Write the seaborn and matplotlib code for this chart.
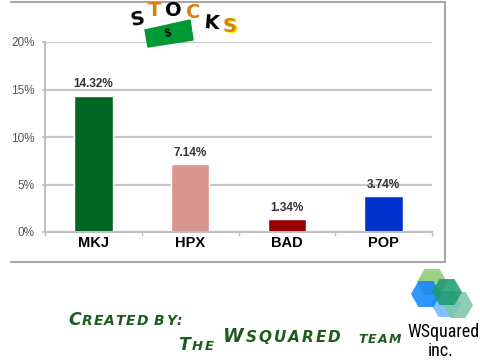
import numpy as np
import pandas as pd
import matplotlib
matplotlib.use("Agg")
import matplotlib.pyplot as plt
from matplotlib.patches import Polygon, RegularPolygon
from matplotlib.ticker import FuncFormatter
import seaborn as sns

tickers = ["MKJ", "HPX", "BAD", "POP"]
returns = [14.32, 7.14, 1.34, 3.74]
bar_colors = ["#006622", "#d99590", "#990000", "#0033cc"]
y_ticks = [0, 5, 10, 15, 20]

df = pd.DataFrame({"ticker": tickers, "ret": returns})

sns.set_theme(style="white")
plt.rcParams["font.family"] = ["Liberation Sans", "DejaVu Sans"]

fig = plt.figure(figsize=(4.8, 3.6), dpi=100)
ax = fig.add_axes([45 / 480, 1 - 232 / 360, 387 / 480, 190 / 360])

sns.barplot(data=df, x="ticker", y="ret", hue="ticker", palette=bar_colors,
            width=0.4, saturation=1, legend=False, ax=ax)

ax.set_xlim(-0.5, 3.5)
ax.set_ylim(0, 20)
ax.set_yticks(y_ticks)
ax.yaxis.set_major_formatter(FuncFormatter(lambda v, _: f"{v:.0f}%"))
ax.set_xlabel("")
ax.set_ylabel("")
ax.set_axisbelow(True)
ax.grid(axis="y", color="#c8c8c8", linewidth=1.6)

for side in ["top", "right"]:
    ax.spines[side].set_visible(False)
for side in ["left", "bottom"]:
    ax.spines[side].set_color("#c0c0c0")
    ax.spines[side].set_linewidth(1.5)

ax.tick_params(axis="y", left=True, length=2.5, color="#c0c0c0", pad=5,
               labelsize=8.5, labelcolor="#555555")
ax.tick_params(axis="x", length=0, pad=3, labelsize=10.5, labelcolor="black")
for lbl in ax.get_xticklabels():
    lbl.set_fontweight("bold")
ax.set_xticks(np.arange(-0.5, 4, 1), minor=True)
ax.tick_params(axis="x", which="minor", bottom=True, length=3, color="#c0c0c0")

# value labels
for cont, val in zip(ax.containers, returns):
    ax.bar_label(cont, labels=[f"{val:.2f}%"], padding=4, fontsize=8.5,
                 fontweight="bold", color="#333333")

# overlay in pixel coordinates for decorations
over = fig.add_axes([0, 0, 1, 1])
over.set_xlim(0, 480)
over.set_ylim(360, 0)
over.axis("off")
over.patch.set_alpha(0)

frame_c = "#a6a6a6"
over.plot([11, 445], [2, 2], color=frame_c, lw=1.5)
over.plot([445, 445], [2, 262], color=frame_c, lw=1.5)
over.plot([11, 445], [262, 262], color=frame_c, lw=1.5)

# STOCKS title
over.add_patch(Polygon([(145, 30), (190, 20), (193, 40), (148, 47)],
                       closed=True, color="#009933", zorder=2))
over.text(168, 33, "$", fontsize=8, fontweight="bold", color="black",
          ha="center", va="center", rotation=12, zorder=3)
title_letters = [
    ("S", 138, 19, "black", 10),
    ("T", 155, 10, "#d4820c", 0),
    ("O", 173, 11, "black", 0),
    ("C", 193, 13, "#d4820c", 0),
    ("K", 211, 23, "black", -5),
    ("S", 230, 26, "#d4820c", 0),
]
for ch, x, y, c, rot in title_letters:
    if ch == "S" and c != "black":
        over.text(x + 1.5, y + 1.5, ch, fontsize=14, fontweight="bold",
                  color="#ffe600", ha="center", va="center",
                  family="DejaVu Sans", zorder=3)
    over.text(x, y, ch, fontsize=14, fontweight="bold", color=c,
              ha="center", va="center", rotation=rot,
              family="DejaVu Sans", zorder=4)

# Created by text, faked small caps
renderer = fig.canvas.get_renderer()
green = "#1e5b1e"


def caps_text(x, y, word, big, small, gap=1):
    for ch in word:
        if ch == " ":
            x += 5
            continue
        size = big if ch.isupper() else small
        t = over.text(x, y, ch.upper(), fontsize=size, color=green,
                      fontweight="bold", style="italic",
                      family="DejaVu Sans", va="baseline")
        x += t.get_window_extent(renderer).width + gap


caps_text(68, 325, "Created by:", 12.5, 10)
caps_text(178, 350, "The", 12.5, 9.5, gap=2)
caps_text(223, 342, "Wsquared", 13.5, 11, gap=2)
caps_text(358, 343, "team", 9, 9, gap=1.5)

# logo
hexes = [
    (432, 282, "#8cc872"),
    (446, 304, "#6cb6ff"),
    (458, 305, "#7cc6a6"),
    (426, 294, "#0a84ff"),
    (447, 292, "#1a9a6c"),
]
for hx, hy, hc in hexes:
    over.add_patch(RegularPolygon((hx, hy), numVertices=6, radius=15,
                                  orientation=np.pi / 6, color=hc, alpha=0.85,
                                  lw=0))
narrow = ["Liberation Sans Narrow", "Roboto Condensed", "DejaVu Sans"]
over.text(443, 337, "WSquared", fontsize=13, color="black", ha="center",
          va="baseline", family=narrow, fontstretch="condensed")
over.text(441, 356, "inc.", fontsize=13, color="black", ha="center",
          va="baseline", family=narrow, fontstretch="condensed")

fig.savefig("out.png", dpi=100)
